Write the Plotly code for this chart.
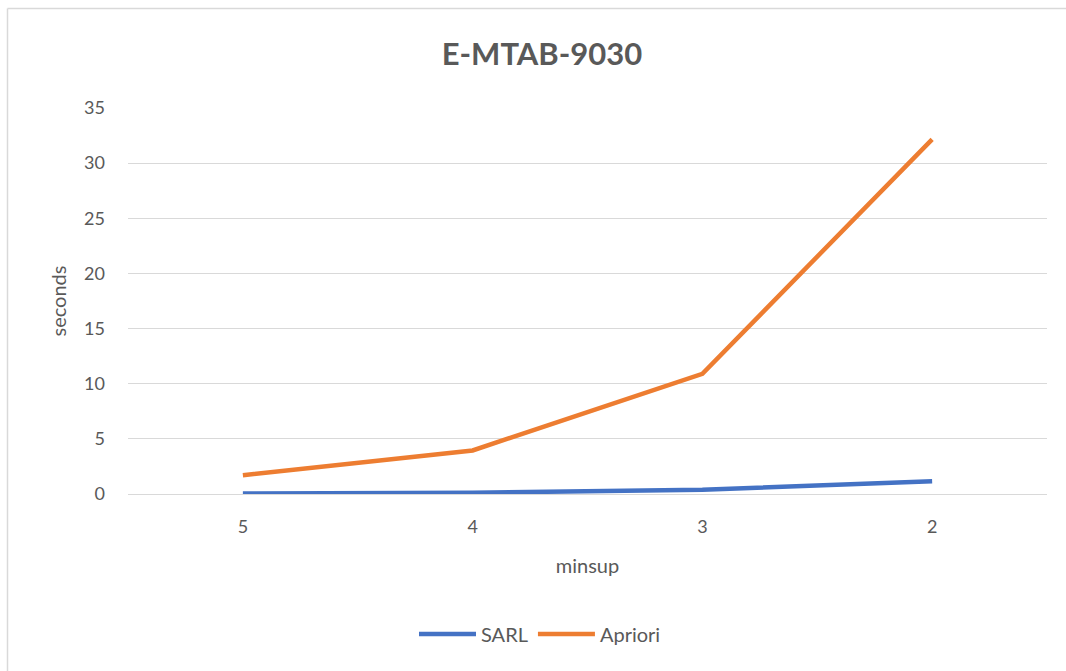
import plotly.graph_objects as go

minsup = ["5", "4", "3", "2"]
sarl = [0.05, 0.12, 0.38, 1.15]
apriori = [1.7, 3.95, 10.9, 32.15]

W, H = 1066, 671
L, R, T, B = 128, 19, 108, 177
pw, ph = W - L - R, H - T - B

def px_x(p):
    return (p - L) / pw

def px_y(p):
    return (H - B - p) / ph

grey = "#595959"
font = "Lato, 'Open Sans', sans-serif"

fig = go.Figure()
fig.add_trace(go.Scatter(x=minsup, y=sarl, mode="lines", name="SARL",
                         line=dict(color="#4472C4", width=4.5)))
fig.add_trace(go.Scatter(x=minsup, y=apriori, mode="lines", name="Apriori",
                         line=dict(color="#ED7D31", width=4.5)))

fig.update_layout(
    width=W, height=H,
    margin=dict(l=L, r=R, t=T, b=B),
    paper_bgcolor="white", plot_bgcolor="white",
    font=dict(family=font, color=grey, size=18),
    title=dict(text="<b>E-MTAB-9030</b>", x=542 / W, xref="container",
               xanchor="center", y=1 - 54 / H, yref="container", yanchor="middle",
               font=dict(size=31, color=grey, family=font)),
    xaxis=dict(type="category", range=[-0.5, 3.5], showgrid=False,
               showline=False, ticks="", tickfont=dict(size=18, color=grey),
               ticklabelstandoff=20,
               title=dict(text="minsup", font=dict(size=20, color=grey), standoff=22)),
    yaxis=dict(range=[0, 35], dtick=5, showgrid=True, gridcolor="#D9D9D9",
               gridwidth=1, zeroline=True, zerolinecolor="#D9D9D9", zerolinewidth=1,
               showline=False, ticks="", tickfont=dict(size=18, color=grey),
               ticklabelstandoff=22,
               title=dict(text="seconds", font=dict(size=20, color=grey), standoff=12)),
    legend=dict(orientation="h", x=540 / W, xref="container", xanchor="center",
                y=1 - 634 / H, yref="container", yanchor="middle",
                font=dict(size=20, color=grey), itemwidth=57),
    showlegend=True,
)

# chart frame: left and top edges
frame = dict(color="#D9D9D9", width=1.5)
fig.add_shape(type="line", xref="paper", yref="paper",
              x0=px_x(7.5), x1=px_x(7.5), y0=px_y(8.5), y1=px_y(H + 5),
              line=frame, layer="below")
fig.add_shape(type="line", xref="paper", yref="paper",
              x0=px_x(7.5), x1=px_x(W + 5), y0=px_y(8.5), y1=px_y(8.5),
              line=frame, layer="below")

fig.write_html("out.html")
